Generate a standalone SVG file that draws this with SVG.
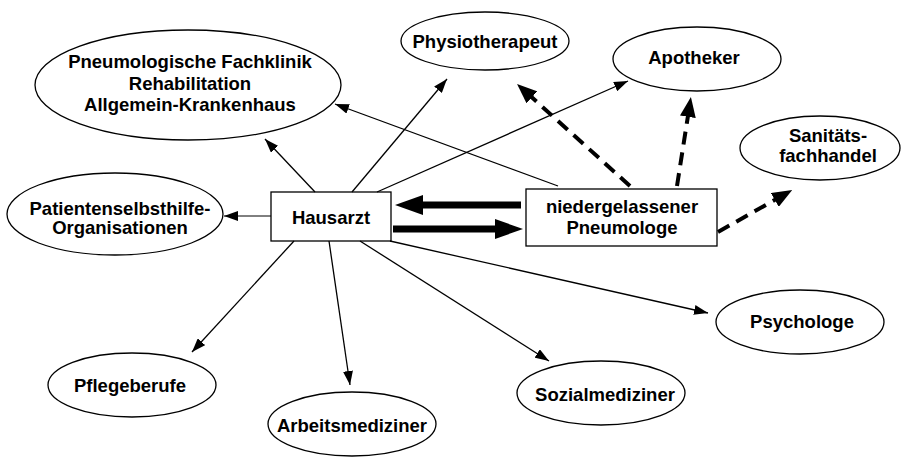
<svg xmlns="http://www.w3.org/2000/svg" width="901" height="458" viewBox="0 0 901 458">
<style>
  .node ellipse, .node rect { fill: #fff; stroke: #000; stroke-width: 1.3; }
  .node text { font-family: "Liberation Sans", Arial, sans-serif; font-weight: bold; font-size: 18.5px; fill: #000; text-anchor: middle; }
  .thin { stroke: #000; stroke-width: 1.3; fill: none; marker-end: url(#ah); }
  .dash { stroke: #000; stroke-width: 4; fill: none; stroke-dasharray: 13 8; marker-end: url(#ahd); }
  .thick { stroke: #000; stroke-width: 7; fill: none; marker-end: url(#aht); }
</style>
<defs>
  <marker id="ah" markerUnits="userSpaceOnUse" markerWidth="14" markerHeight="10" refX="14" refY="5" orient="auto">
    <path d="M0,0 L14,5 L0,10 z" fill="#000"/>
  </marker>
  <marker id="ahd" markerUnits="userSpaceOnUse" markerWidth="20" markerHeight="16" refX="14" refY="8" orient="auto">
    <path d="M0,0 L20,8 L0,16 z" fill="#000"/>
  </marker>
  <marker id="aht" markerUnits="userSpaceOnUse" markerWidth="28" markerHeight="20" refX="17" refY="10" orient="auto">
    <path d="M0,0 L28,10 L0,20 z" fill="#000"/>
  </marker>
</defs>
<rect width="901" height="458" fill="#fff"/>

<g id="n-fachklinik" class="node">
  <ellipse cx="188" cy="85" rx="153" ry="55"/>
  <text x="190" y="68">Pneumologische Fachklinik</text>
  <text x="190" y="90">Rehabilitation</text>
  <text x="190" y="111">Allgemein-Krankenhaus</text>
</g>
<g id="n-physio" class="node">
  <ellipse cx="485" cy="41" rx="84" ry="29"/>
  <text x="485" y="48">Physiotherapeut</text>
</g>
<g id="n-apotheker" class="node">
  <ellipse cx="697" cy="59" rx="84" ry="32"/>
  <text x="694" y="64">Apotheker</text>
</g>
<g id="n-sanitaet" class="node">
  <ellipse cx="820" cy="148" rx="80" ry="32"/>
  <text x="828" y="142">Sanitäts-</text>
  <text x="828" y="162">fachhandel</text>
</g>
<g id="n-patienten" class="node">
  <ellipse cx="115" cy="214" rx="108" ry="41"/>
  <text x="120" y="215">Patientenselbsthilfe-</text>
  <text x="120" y="234">Organisationen</text>
</g>
<g id="n-hausarzt" class="node">
  <rect x="271" y="192" width="120" height="49"/>
  <text x="331" y="224">Hausarzt</text>
</g>
<g id="n-pneumologe" class="node">
  <rect x="526" y="189" width="191" height="57"/>
  <text x="622" y="213">niedergelassener</text>
  <text x="622" y="234">Pneumologe</text>
</g>
<g id="n-pflege" class="node">
  <ellipse cx="132" cy="385" rx="84" ry="32"/>
  <text x="130" y="392">Pflegeberufe</text>
</g>
<g id="n-arbeit" class="node">
  <ellipse cx="352" cy="424" rx="84" ry="32"/>
  <text x="352" y="432">Arbeitsmediziner</text>
</g>
<g id="n-sozial" class="node">
  <ellipse cx="601" cy="393" rx="84" ry="32"/>
  <text x="605" y="401">Sozialmediziner</text>
</g>
<g id="n-psycho" class="node">
  <ellipse cx="800" cy="322" rx="84" ry="32"/>
  <text x="802" y="328">Psychologe</text>
</g>

<g id="connectors">
  <line class="thin" x1="315" y1="192" x2="265" y2="139"/>
  <line class="thin" x1="352" y1="192" x2="447" y2="79"/>
  <line class="thin" x1="377" y1="192" x2="628" y2="81"/>
  <line class="thin" x1="558" y1="186" x2="335" y2="104"/>
  <line class="thin" x1="271" y1="216" x2="224" y2="216" style="stroke-width:1"/>
  <line class="thin" x1="294" y1="241" x2="192" y2="352"/>
  <line class="thin" x1="329" y1="241" x2="350" y2="385"/>
  <line class="thin" x1="360" y1="241" x2="549" y2="361"/>
  <line class="thin" x1="390" y1="241" x2="708" y2="313"/>
  <line class="thick" x1="521" y1="205" x2="406" y2="205"/>
  <line class="thick" x1="393" y1="229" x2="512" y2="229"/>
  <line class="dash" x1="630" y1="186" x2="521.5" y2="88"/>
  <line class="dash" x1="677" y1="186" x2="690" y2="103"/>
  <line class="dash" x1="718" y1="232" x2="787" y2="193"/>
</g>
</svg>
